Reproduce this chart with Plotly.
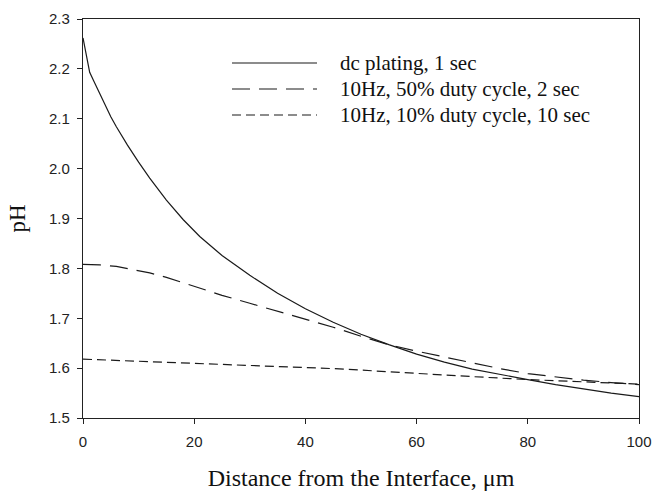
import plotly.graph_objects as go

# Distance from the interface (um)
x_dc = [0, 1.2, 2, 3, 4, 5, 6, 8, 10, 12, 15, 18, 21, 25, 30, 35, 40, 45, 50, 55, 60, 65, 70, 75, 80, 85, 90, 95, 100]
ph_dc = [2.262, 2.193, 2.174, 2.150, 2.127, 2.104, 2.084, 2.047, 2.013, 1.981, 1.937, 1.898, 1.864, 1.826, 1.786,
         1.750, 1.719, 1.692, 1.668, 1.647, 1.628, 1.612, 1.598, 1.587, 1.577, 1.567, 1.558, 1.550, 1.543]

x_50 = [0, 3, 6, 8, 10, 12, 15, 20, 25, 30, 35, 40, 45, 50, 55, 60, 65, 70, 75, 80, 85, 90, 95, 100]
ph_50 = [1.808, 1.807, 1.804, 1.800, 1.796, 1.791, 1.782, 1.764, 1.746, 1.730, 1.714, 1.699, 1.682, 1.664,
         1.647, 1.634, 1.622, 1.610, 1.599, 1.589, 1.582, 1.576, 1.571, 1.567]

x_10 = [0, 10, 20, 30, 40, 45, 50, 60, 70, 80, 90, 100]
ph_10 = [1.618, 1.614, 1.609, 1.605, 1.601, 1.599, 1.596, 1.589, 1.583, 1.577, 1.572, 1.568]

labels = ["dc plating, 1 sec", "10Hz, 50% duty cycle, 2 sec", "10Hz, 10% duty cycle, 10 sec"]
dashes = ["solid", "18px,9px", "9px,5px"]

x_ticks = [0, 20, 40, 60, 80, 100]
y_ticks = [1.5, 1.6, 1.7, 1.8, 1.9, 2.0, 2.1, 2.2, 2.3]

line_color = "#1a1a1a"
fig = go.Figure()
for xs, ys, lab, d in [(x_dc, ph_dc, labels[0], dashes[0]),
                       (x_50, ph_50, labels[1], dashes[1]),
                       (x_10, ph_10, labels[2], dashes[2])]:
    fig.add_trace(go.Scatter(x=xs, y=ys, mode="lines", name=lab,
                             line=dict(color=line_color, width=1.2, dash=d),
                             showlegend=False))

# custom legend (line samples + text)
W, H = 652, 491
ml, mr, mt, mb = 83, 13, 19, 73
pw, ph_ = W - ml - mr, H - mt - mb
def px_to_paper(px, py):
    return (px - ml) / pw, 1 - (py - mt) / ph_

rows_y = [63, 89, 115]
for lab, d, ry in zip(labels, dashes, rows_y):
    x0, y0 = px_to_paper(232, ry)
    x1, _ = px_to_paper(317, ry)
    fig.add_shape(type="line", xref="paper", yref="paper", x0=x0, x1=x1, y0=y0, y1=y0,
                  line=dict(color=line_color, width=1.2, dash=d))
    tx, ty = px_to_paper(338, ry)
    fig.add_annotation(xref="paper", yref="paper", x=tx, y=ty, text=lab, showarrow=False,
                       xanchor="left", yanchor="middle",
                       font=dict(family="Liberation Serif", size=21, color="#111"))

axis_common = dict(showline=True, linecolor="#222", linewidth=1.3, mirror=True, ticks="outside",
                   ticklen=5, tickwidth=1, tickcolor="#222", showgrid=False, zeroline=False,
                   automargin=False,
                   tickfont=dict(family="Liberation Sans", size=15, color="#222"))

fig.update_xaxes(range=[0, 100], tickvals=x_ticks, ticklabelstandoff=5,
                 title=dict(text="Distance from the Interface, \u03bcm", standoff=22,
                            font=dict(family="Liberation Serif", size=24, color="#111")),
                 **axis_common)
fig.update_yaxes(range=[1.5, 2.3], tickvals=y_ticks, tickformat=".1f", ticklabelstandoff=4,
                 title=dict(text="pH", standoff=16,
                            font=dict(family="Liberation Serif", size=23, color="#111")),
                 **axis_common)

fig.update_layout(width=W, height=H, margin=dict(l=ml, r=mr, t=mt, b=mb),
                  plot_bgcolor="white", paper_bgcolor="white")

fig.write_html("out.html")
